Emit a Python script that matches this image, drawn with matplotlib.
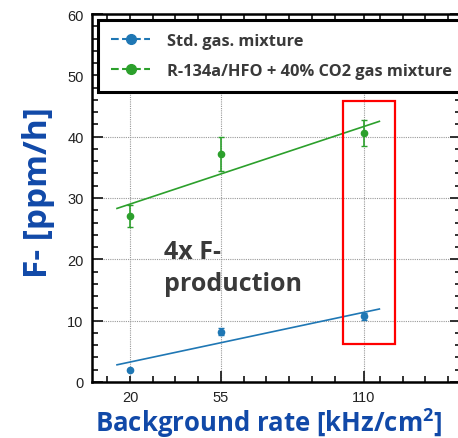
import matplotlib.pyplot as plt
from matplotlib.patches import Rectangle
from matplotlib.ticker import FixedLocator, MultipleLocator
import numpy as np

# background rate points [kHz/cm2]
rates = [20, 55, 110]

# F- production [ppm/h]
std_vals = [2.0, 8.2, 10.7]
std_err = [0.0, 0.6, 0.6]
hfo_vals = [27.0, 37.2, 40.6]
hfo_err_lo = [1.8, 2.8, 2.2]
hfo_err_hi = [1.9, 2.8, 2.1]

# linear fit lines (end points)
fit_x = [15, 116]
std_fit = [2.8, 11.9]
hfo_fit = [28.3, 42.5]

blue = '#1f77b4'
green = '#2ca02c'
label_blue = '#1149a8'
dark = '#3a3a3a'

plt.rcParams['font.family'] = ['Open Sans', 'DejaVu Sans']
plt.rcParams['mathtext.fontset'] = 'custom'
plt.rcParams['mathtext.rm'] = 'Open Sans'
plt.rcParams['mathtext.bf'] = 'Open Sans:bold'

fig = plt.figure(figsize=(4.58, 4.39), dpi=100)
ax = fig.add_axes([0.201, 0.1276, 0.806, 0.8382])

ax.errorbar(rates, std_vals, yerr=std_err, fmt='o', color=blue, ms=4.5,
            capsize=2, elinewidth=1.2, zorder=3)
ax.errorbar(rates, hfo_vals, yerr=[hfo_err_lo, hfo_err_hi], fmt='o', color=green,
            ms=4.5, capsize=2, elinewidth=1.2, zorder=3)
ax.plot(fit_x, std_fit, color=blue, lw=1.2)
ax.plot(fit_x, hfo_fit, color=green, lw=1.2)

# legend handles: dashed line with marker
h1, = ax.plot([], [], '--o', color=blue, ms=7, lw=1.5)
h2, = ax.plot([], [], '--o', color=green, ms=7, lw=1.5)
leg = ax.legend([h1, h2], ['Std. gas. mixture', 'R-134a/HFO + 40% CO2 gas mixture'],
                loc='upper left', bbox_to_anchor=(0.016, 0.984, 1.1, 0.0),
                mode='expand', borderaxespad=0, fancybox=False, handlelength=2.4,
                handletextpad=1.0, borderpad=0.8, labelspacing=0.85, framealpha=1,
                prop={'weight': 'bold', 'size': 11.8})
leg.get_frame().set_edgecolor('black')
leg.get_frame().set_linewidth(2.2)
for t in leg.get_texts():
    t.set_color(dark)

# highlighted 110 kHz/cm2 point
ax.add_patch(Rectangle((101.9, 6.2), 20.0, 39.6, fill=False, ec='#ff0000', lw=1.6, zorder=4))

ax.text(33, 23.3, '4x F-\nproduction', fontsize=18, fontweight='bold', color=dark,
        va='top', ha='left', linespacing=1.35, zorder=5)

ax.set_xlim(5.4, 147.5)
ax.set_ylim(0, 60)
ax.set_xticks(rates)
ax.set_xticklabels([str(r) for r in rates])
ax.xaxis.set_minor_locator(FixedLocator([20 + 8.75 * k for k in range(-1, 15) if abs(20 + 8.75 * k - 110) > 4]))
ax.set_yticks([0, 10, 20, 30, 40, 50, 60])
ax.yaxis.set_minor_locator(MultipleLocator(2))

ax.tick_params(which='both', direction='in', top=True, right=True, width=1.3, color='#222222',
               labelcolor='#222222', labelfontfamily='Liberation Sans')
ax.tick_params(which='major', length=8, labelsize=10.5, pad=6)
ax.tick_params(which='minor', length=4)
ax.xaxis.get_major_ticks()[0].tick1line.set_markersize(4)

for s in ax.spines.values():
    s.set_linewidth(1.8)

ax.grid(True, which='major', ls=(0, (1, 1)), color='#999999', lw=0.8)
ax.set_axisbelow(True)

ax.set_xlabel('Background rate [kHz/cm$^\\mathbf{2}$]', fontsize=18.5, fontweight='bold',
              color=label_blue)
ax.set_ylabel('F- [ppm/h]', fontsize=24, fontweight='bold', color=label_blue)
ax.xaxis.set_label_coords(0.478, -0.064)
ax.yaxis.set_label_coords(-0.1, 0.518)

fig.savefig('out.png', dpi=100)
